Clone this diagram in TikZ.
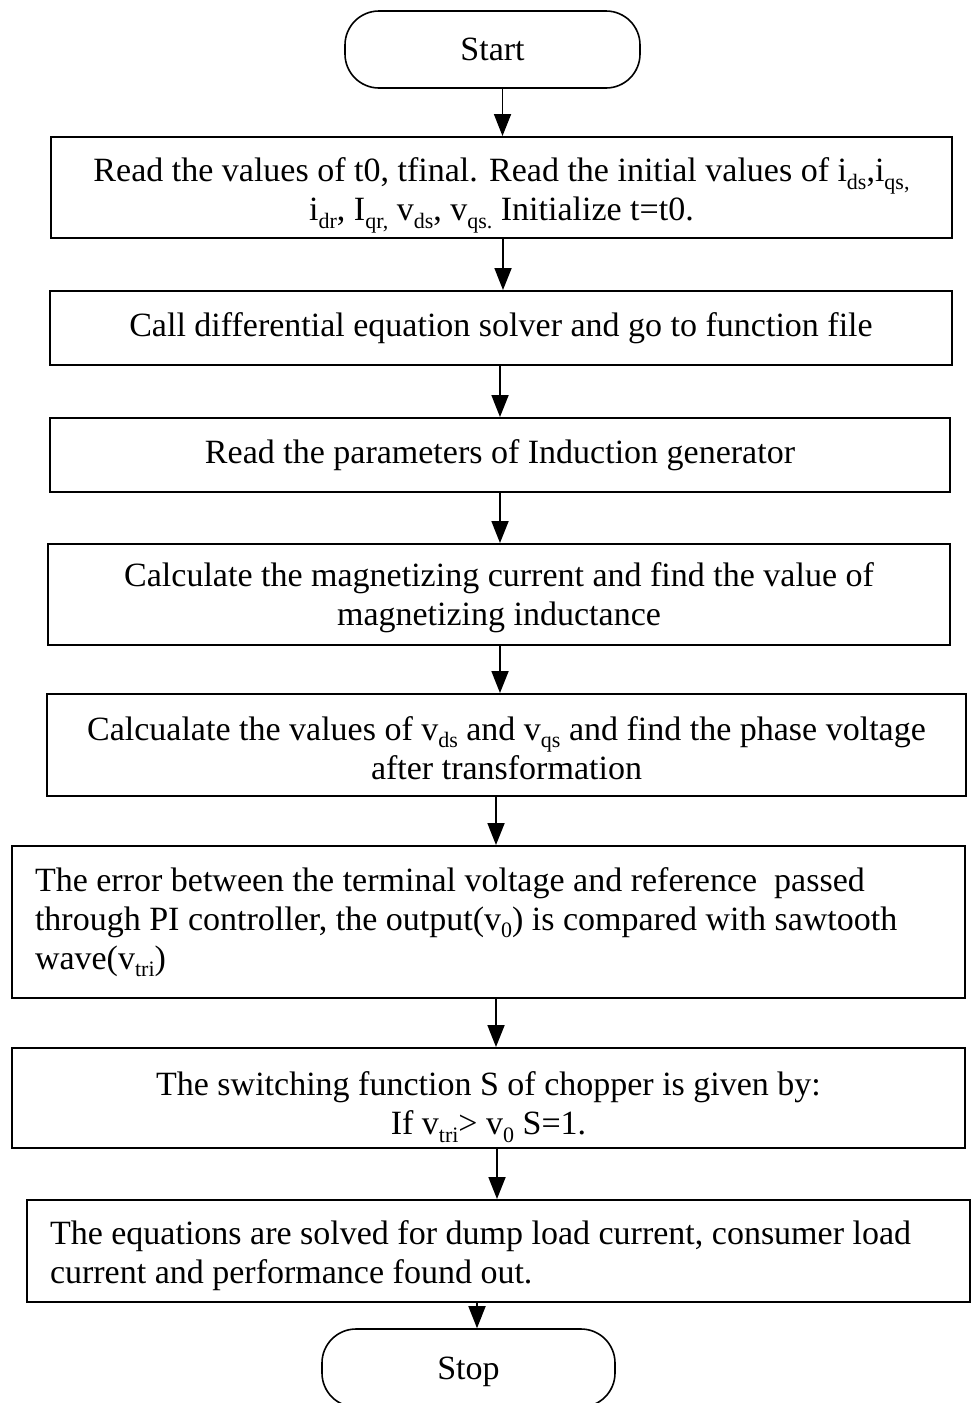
\documentclass[tikz,border=0pt]{standalone}
\usepackage{fontspec}
\setmainfont{Liberation Serif}
\usetikzlibrary{arrows.meta}

% lowered small text for index letters such as v_ds
\newcommand\lowtxt[1]{\raisebox{-0.22em}{\fontsize{22}{22}\selectfont #1}}
% invisible strut that lowers a text block a little inside its box
\newcommand\dropstrut[1]{\rule{0pt}{#1}}

\tikzset{
  every node/.style={font=\fontsize{34}{39}\selectfont},
  procbox/.style={draw, line width=2pt, rectangle, inner sep=0pt, align=center},
  leftbox/.style={draw, line width=2pt, rectangle, inner xsep=23pt, inner ysep=0pt, align=flush left},
  termbox/.style={draw, line width=1.6pt, rectangle, rounded corners=34pt, inner sep=0pt},
  flow/.style={line width=1.8pt, -{Triangle[length=22pt,width=17pt]}}
}

\begin{document}
\begin{tikzpicture}[x=1pt,y=-1pt]
\useasboundingbox (0,0) rectangle (971,1403);

\node[termbox, minimum width=295pt, minimum height=77pt] (start) at (492.5,49.5) {Start};

\node[procbox, minimum width=901pt, minimum height=101pt] (b1) at (501.5,187.5)
  {\dropstrut{40pt}Read the values of t0, tfinal. Read the initial values of i\lowtxt{ds},i\lowtxt{qs,}\\
   i\lowtxt{dr}, I\lowtxt{qr,} v\lowtxt{ds}, v\lowtxt{qs.} Initialize t=t0.};

\node[procbox, minimum width=902pt, minimum height=74pt] (b2) at (501,328)
  {Call differential equation solver and go to function file};

\node[procbox, minimum width=900pt, minimum height=74pt] (b3) at (500,455)
  {Read the parameters of Induction generator};

\node[procbox, minimum width=902pt, minimum height=101pt] (b4) at (499,594.5)
  {\dropstrut{31pt}Calculate the magnetizing current and find the value of\\ magnetizing inductance};

\node[procbox, minimum width=919pt, minimum height=102pt] (b5) at (506.5,745)
  {\dropstrut{30pt}Calcualate the values of v\lowtxt{ds} and v\lowtxt{qs} and find the phase voltage\\ after transformation};

\node[leftbox, text width=907pt, minimum height=152pt] (b6) at (488.5,922)
  {The error between the terminal voltage and reference\ \ passed\\
   through PI controller, the output(v\lowtxt{0}) is compared with sawtooth\\
   wave(v\lowtxt{tri})};

\node[procbox, minimum width=953pt, minimum height=100pt] (b7) at (488.5,1098)
  {\dropstrut{42pt}The switching function S of chopper is given by:\\ If v\lowtxt{tri}> v\lowtxt{0} S=1.};

\node[leftbox, text width=897pt, minimum height=102pt] (b8) at (498.5,1251)
  {\dropstrut{34pt}The equations are solved for dump load current, consumer load\\
   current and performance found out.};

\node[termbox, minimum width=293pt, minimum height=78pt] (stop) at (468.5,1368) {\dropstrut{30pt}Stop};

% connectors
\draw[flow] ([xshift=10pt]start.south) -- ([xshift=10pt]start.south |- b1.north);
\draw[flow] ([xshift=1.5pt]b1.south) -- ([xshift=1.5pt]b1.south |- b2.north);
\draw[flow] ([xshift=-1pt]b2.south) -- ([xshift=-1pt]b2.south |- b3.north);
\draw[flow] (b3.south) -- (b3.south |- b4.north);
\draw[flow] ([xshift=1pt]b4.south) -- ([xshift=1pt]b4.south |- b5.north);
\draw[flow] ([xshift=-10.5pt]b5.south) -- ([xshift=-10.5pt]b5.south |- b6.north);
\draw[flow] ([xshift=7.5pt]b6.south) -- ([xshift=7.5pt]b6.south |- b7.north);
\draw[flow] ([xshift=8.5pt]b7.south) -- ([xshift=8.5pt]b7.south |- b8.north);
\draw[flow] ([xshift=8.5pt]stop.north |- b8.south) -- ([xshift=8.5pt]stop.north);
\end{tikzpicture}
\end{document}
